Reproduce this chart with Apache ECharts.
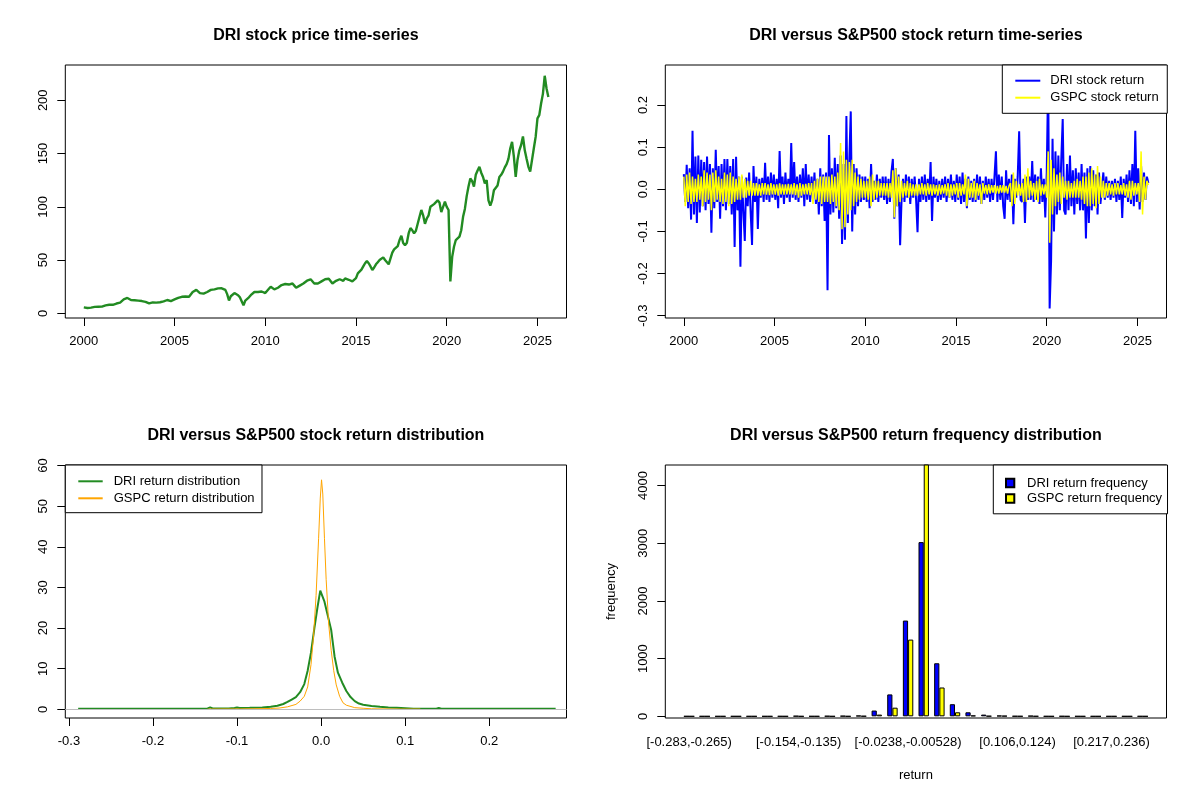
<!DOCTYPE html>
<html>
<head>
<meta charset="utf-8">
<title>DRI versus S&amp;P500</title>
<script src="https://cdn.jsdelivr.net/npm/echarts@6.0.0/dist/echarts.min.js"></script>
<style>
  html, body { margin: 0; padding: 0; background: #fff; }
  #main { width: 1200px; height: 800px; }
</style>
</head>
<body>
<div id="main"></div>
<script>
// ---- values ----

// DRI closing price, one value every 0.1 year from 2000.0
var priceStart = 2000.0;
var priceStep = 0.1;
var driPrice = [
  5.6, 4.6, 5.0, 5.5, 5.3, 5.8, 6.0, 5.8, 6.2, 6.5,
  6.3, 6.8, 7.5, 7.2, 8.0, 8.4, 8.0, 8.8, 9.2, 9.0,
  10, 11, 13, 13.5, 14.4, 13, 12.5, 12.8, 12.2, 11.5,
  11.9, 11, 11.5, 10.5, 10.8, 9.8, 9.4, 9.8, 10.2, 10,
  10, 10.5, 10.4, 11, 11.2, 11.5, 12.5, 12, 11.5, 11.8,
  13, 14, 14.5, 15, 15.5, 16, 15.8, 15, 15.5, 17,
  20, 21, 22, 20.5, 19, 19.5, 18.5, 19, 20, 20.5,
  22, 21, 22.5, 23, 23.4, 22.5, 23.5, 22.5, 22, 18,
  12, 16, 17, 19, 18, 17, 15, 14, 7.5, 12,
  12.5, 15, 17, 18.5, 20, 19.5, 20, 21, 20.5, 19.5,
  19, 20.5, 23, 25, 24, 22.5, 23.5, 24, 25.5, 26.5,
  26.5, 27.5, 28, 27, 27.5, 28, 26, 24, 25, 26,
  27, 28, 29.5, 30.6, 30.5, 31.9, 30.5, 28, 26.5, 28,
  28.8, 30, 31, 32, 32.8, 32.5, 31, 28, 29, 30.5,
  31, 32, 31.5, 30.5, 32.8, 32, 31.5, 29.7, 30, 30.6,
  33, 37.5, 38.5, 41, 44, 47, 49, 47, 44, 40.6,
  43, 46, 48, 50, 51, 52.5, 50, 48.4, 46, 47.5,
  57, 60, 61.6, 63, 68.8, 72.8, 66, 64, 66, 75,
  80, 78, 75, 77.5, 76, 90.6, 97, 92, 84, 89,
  92, 100, 99, 102.5, 101, 106, 104, 95, 100, 104.7,
  100, 97, 30, 53, 62.5, 68.8, 67, 72, 78, 90.6,
  98, 110, 119, 126.6, 124, 119, 130, 134, 137.5, 132,
  128, 122, 125, 106, 101, 106, 115.6, 114, 120, 128,
  130, 133, 137, 140, 145, 154.7, 161, 147, 128, 144,
  153, 158, 166, 153, 145, 137.5, 133, 144, 155, 165.6,
  183, 186, 197, 206, 223, 211, 203
];

// daily returns thinned to one value every 0.08 year from 2000.0
var retStart = 2000.0;
var retStep = 0.08;
var driRet = [
  0.036, -0.03, 0.058, -0.045, 0.05, -0.072, 0.139, -0.06, 0.078, -0.08, 0.08, -0.055, 0.07,
  -0.04, 0.065, -0.05, 0.078, -0.035, 0.06, -0.103, 0.05, -0.045, 0.094, -0.03, 0.055,
  -0.07, 0.06, -0.04, 0.072, -0.05, 0.072, -0.035, 0.055, -0.06, 0.072, -0.137, 0.077, -0.05,
  0.03, -0.184, 0.03, -0.05, -0.123, 0.028, -0.04, 0.04, -0.05, -0.132, 0.055, -0.03,
  0.03, -0.094, 0.025, -0.02, 0.027, -0.03, 0.063, -0.025, 0.03, -0.03, 0.04, -0.02, 0.035,
  -0.025, 0.025, -0.045, 0.091, -0.02, 0.03, -0.035, 0.04, -0.02, 0.025, -0.03, 0.11,
  -0.02, 0.065, -0.025, 0.03, -0.03, 0.035, -0.02, 0.05, -0.04, 0.06, -0.025, 0.035, -0.03,
  0.03, -0.025, 0.04, -0.035, 0.025, -0.06, 0.05, -0.04, 0.035, -0.075, 0.04, -0.24,
  0.129, -0.06, 0.05, -0.055, 0.075, -0.045, 0.06, -0.07, 0.08, -0.13, 0.06, -0.12, 0.174,
  -0.08, 0.07, 0.185, -0.1, 0.06, -0.06, 0.05, -0.04, 0.035, -0.03, 0.03, -0.025,
  0.03, -0.03, 0.025, -0.045, 0.06, -0.03, 0.02, -0.025, 0.035, -0.03, 0.025, -0.02, 0.03,
  -0.025, 0.03, -0.035, 0.025, -0.03, 0.04, 0.072, -0.07, 0.05, -0.04, 0.035, -0.133,
  -0.025, 0.025, -0.03, 0.035, -0.02, 0.03, -0.035, 0.025, -0.02, 0.03, -0.025, -0.102, 0.025,
  -0.03, 0.03, -0.025, 0.035, -0.03, 0.025, -0.025, 0.065, -0.075, 0.03, -0.02, 0.025,
  -0.03, 0.02, -0.025, 0.025, -0.02, 0.03, -0.03, 0.025, -0.02, 0.035, -0.025, 0.02, -0.03,
  0.035, -0.025, 0.03, -0.035, 0.04, -0.03, 0.025, -0.045, 0.03, -0.025, 0.02, -0.03,
  0.025, -0.03, 0.035, -0.025, 0.03, -0.035, 0.02, -0.025, 0.03, -0.02, 0.025, -0.03, 0.025,
  -0.025, 0.03, 0.09, -0.03, 0.035, -0.025, 0.03, -0.04, -0.07, 0.045, -0.025, 0.025,
  -0.03, 0.035, -0.083, 0.025, -0.02, 0.03, 0.138, -0.025, -0.03, 0.025, -0.08, 0.03, -0.025,
  0.03, -0.025, 0.067, -0.03, 0.035, -0.025, 0.03, -0.035, 0.05, -0.03, 0.025, -0.067,
  0.04, 0.27, -0.283, -0.17, 0.12, -0.1, 0.09, -0.06, 0.08, -0.05, 0.07, 0.167, -0.05,
  -0.06, 0.06, -0.05, 0.08, -0.04, 0.045, -0.06, 0.05, -0.035, 0.04, -0.05, 0.06,
  -0.05, 0.04, -0.117, 0.05, -0.08, 0.055, -0.05, 0.045, -0.04, 0.035, -0.06, 0.04, -0.035,
  -0.035, 0.04, -0.025, 0.03, -0.02, 0.02, -0.025, 0.02, -0.02, 0.025, -0.03, 0.02,
  -0.025, 0.03, -0.068, 0.025, -0.02, 0.035, -0.03, 0.045, -0.035, 0.06, -0.04, 0.139, -0.03,
  0.05, -0.048, 0.055, -0.03, 0.04, -0.025, 0.03, 0.015
];
var gspcRet = [
  0.03, -0.04, 0.035, -0.03, 0.04, -0.035, 0.03, -0.03, 0.025, -0.03, 0.035, -0.025, 0.03,
  -0.04, 0.045, -0.03, 0.04, -0.025, 0.035, -0.05, 0.04, -0.03, 0.045, -0.025, 0.03,
  -0.03, 0.025, -0.035, 0.04, -0.03, 0.035, -0.04, 0.04, -0.035, 0.03, -0.03, 0.025, -0.025,
  0.03, -0.025, 0.035, -0.02, 0.025, -0.02, 0.02, -0.015, 0.02, -0.015, 0.015, -0.015,
  0.015, -0.015, 0.012, -0.015, 0.015, -0.012, 0.015, -0.013, 0.012, -0.014, 0.015, -0.012, 0.012,
  -0.013, 0.012, -0.015, 0.014, -0.012, 0.012, -0.013, 0.012, -0.012, 0.013, -0.012, 0.012,
  -0.012, 0.015, -0.014, 0.012, -0.02, 0.015, -0.015, 0.012, -0.012, 0.013, -0.012, 0.015, -0.014,
  0.015, -0.035, 0.02, -0.025, 0.025, -0.03, 0.03, -0.035, 0.03, -0.03, 0.03, -0.03,
  0.03, -0.035, 0.035, -0.03, 0.03, -0.04, 0.04, -0.05, 0.11, -0.095, 0.09, -0.09, 0.07,
  -0.06, 0.065, -0.05, 0.07, -0.04, 0.04, -0.03, 0.03, -0.025, 0.025, -0.02, 0.02,
  -0.02, 0.02, -0.025, 0.03, -0.04, 0.035, -0.025, 0.02, -0.02, 0.02, -0.015, 0.015, -0.015,
  0.015, -0.015, 0.015, -0.02, 0.015, -0.02, 0.045, -0.067, 0.05, -0.04, 0.03, -0.03,
  0.02, -0.02, 0.015, -0.015, 0.02, -0.02, 0.015, -0.015, 0.012, -0.015, 0.012, -0.015, 0.012,
  -0.012, 0.015, -0.012, 0.012, -0.015, 0.015, -0.012, 0.012, -0.015, 0.012, -0.012, 0.01,
  -0.015, 0.012, -0.012, 0.01, -0.01, 0.012, -0.015, 0.015, -0.02, 0.012, -0.015, 0.012, -0.012,
  0.015, -0.02, 0.015, -0.015, 0.012, -0.012, 0.035, -0.04, 0.025, -0.02, 0.015, -0.02,
  0.02, -0.025, 0.015, -0.015, 0.012, -0.035, 0.015, -0.01, 0.01, -0.012, 0.012, -0.01, 0.01,
  -0.008, 0.01, -0.01, 0.008, -0.01, 0.01, -0.008, 0.01, -0.008, 0.008, -0.01, 0.008,
  0.015, -0.04, 0.04, -0.035, 0.02, -0.015, 0.012, -0.015, 0.015, -0.03, 0.035, -0.03, 0.05,
  -0.02, 0.02, -0.015, 0.015, -0.025, 0.02, -0.03, 0.025, -0.015, 0.012, -0.012, 0.012,
  -0.02, 0.09, -0.127, 0.07, -0.06, 0.05, -0.04, 0.035, -0.03, 0.04, -0.035, 0.03, -0.02,
  0.02, -0.025, 0.02, -0.02, 0.015, -0.02, 0.02, -0.02, 0.025, -0.02, 0.02, -0.025,
  0.03, -0.035, 0.03, -0.04, 0.04, -0.04, 0.05, -0.035, 0.035, -0.045, 0.055, -0.035, 0.03,
  -0.02, 0.02, -0.02, 0.015, -0.015, 0.015, -0.012, 0.012, -0.015, 0.015, -0.012, 0.015,
  -0.012, 0.01, -0.012, 0.015, -0.015, 0.012, -0.02, 0.02, -0.025, 0.02, -0.015, 0.015, -0.012,
  0.015, -0.03, 0.09, -0.06, 0.03, -0.025, 0.02, 0.01
];

// kernel density curves
var driDensX = [-0.289, -0.25, -0.2, -0.15, -0.135, -0.132, -0.129, -0.11, -0.103, -0.1,
  -0.097, -0.085, -0.07, -0.06, -0.052, -0.045, -0.04, -0.035, -0.03, -0.025,
  -0.02, -0.016, -0.012, -0.008, -0.004, -0.001, 0.001, 0.004, 0.008, 0.012,
  0.016, 0.02, 0.025, 0.03, 0.035, 0.04, 0.045, 0.05, 0.06, 0.07,
  0.08, 0.09, 0.1, 0.11, 0.137, 0.14, 0.143, 0.2, 0.25, 0.279];
var driDensY = [0.15, 0.15, 0.15, 0.15, 0.2, 0.45, 0.2, 0.2, 0.3, 0.45,
  0.3, 0.35, 0.45, 0.6, 0.85, 1.3, 1.8, 2.4, 3.0, 4.2,
  6.2, 9.5, 14, 20, 25.5, 29.2, 29, 26.5, 23, 19.5,
  13, 9, 6.6, 4.5, 3, 2.0, 1.4, 1.1, 0.8, 0.6,
  0.45, 0.35, 0.25, 0.15, 0.15, 0.3, 0.15, 0.15, 0.15, 0.15];
var gspcDensX = [-0.135, -0.1, -0.08, -0.06, -0.05, -0.04, -0.03, -0.025, -0.02, -0.016,
  -0.012, -0.009, -0.006, -0.003, -0.001, 0.0005, 0.002, 0.004, 0.006, 0.009,
  0.012, 0.015, 0.018, 0.022, 0.026, 0.03, 0.04, 0.05, 0.06, 0.08, 0.1, 0.118];
var gspcDensY = [0.05, 0.08, 0.12, 0.2, 0.3, 0.6, 1.2, 2.0, 3.2, 5.5,
  11, 18, 28, 42, 52, 56.5, 53, 42, 32, 21,
  14.5, 9.5, 6, 3.2, 1.6, 1.0, 0.4, 0.25, 0.12, 0.08, 0.05, 0.05];

// histogram bins and counts
var binLabels = [
  '[-0.283,-0.265)', '[-0.265,-0.246)', '[-0.246,-0.228)', '[-0.228,-0.209)', '[-0.209,-0.191)',
  '[-0.191,-0.172)', '[-0.172,-0.154)', '[-0.154,-0.135)', '[-0.135,-0.117)', '[-0.117,-0.098)',
  '[-0.098,-0.0794)', '[-0.0794,-0.0609)', '[-0.0609,-0.0423)', '[-0.0423,-0.0238)', '[-0.0238,-0.00528)',
  '[-0.00528,0.0133)', '[0.0133,0.0318)', '[0.0318,0.0503)', '[0.0503,0.0688)', '[0.0688,0.0874)',
  '[0.0874,0.106)', '[0.106,0.124)', '[0.124,0.143)', '[0.143,0.161)', '[0.161,0.18)',
  '[0.18,0.198)', '[0.198,0.217)', '[0.217,0.236)', '[0.236,0.254)', '[0.254,0.273]'
];
var driFreq = [1, 0, 0, 0, 0, 0, 1, 5, 1, 4, 6, 12, 100, 380, 1660, 3020, 920, 210, 70, 30, 12, 3, 8, 1, 2, 1, 0, 0, 0, 1];
var gspcFreq = [0, 0, 0, 0, 0, 0, 0, 0, 1, 0, 1, 4, 30, 150, 1330, 4410, 500, 70, 15, 5, 8, 2, 2, 0, 0, 0, 0, 0, 0, 0];
var binLabelShown = [0, 7, 14, 21, 27];

// axis ticks
var yearTicks = [2000, 2005, 2010, 2015, 2020, 2025];
var priceTicks = [0, 50, 100, 150, 200];
var retTicks = [-0.3, -0.2, -0.1, 0, 0.1, 0.2];
var densXTicks = [-0.3, -0.2, -0.1, 0, 0.1, 0.2];
var densYTicks = [0, 10, 20, 30, 40, 50, 60];
var freqTicks = [0, 1000, 2000, 3000, 4000];

var FONT = 'Liberation Sans, Arial, sans-serif';

function series(start, step, vals) {
    var out = [];
    for (var i = 0; i < vals.length; i++) {
        out.push([start + i * step, vals[i]]);
    }
    return out;
}
function zip(xs, ys) {
    var out = [];
    for (var i = 0; i < xs.length; i++) {
        out.push([xs[i], ys[i]]);
    }
    return out;
}
function oneDecimal(v) { return v.toFixed(1); }
function plain(v) { return String(v); }

function valueAxis(grid, min, max, ticks, fmt, vertical) {
    return {
        type: 'value', gridIndex: grid, min: min, max: max, scale: true,
        axisLine: {show: false, onZero: false},
        splitLine: {show: false},
        axisTick: {show: true, inside: false, length: 8, customValues: ticks,
            lineStyle: {color: '#000', width: 1}},
        axisLabel: {
            customValues: ticks, formatter: fmt, color: '#000',
            fontFamily: FONT, fontSize: 13,
            rotate: vertical ? 90 : 0,
            margin: vertical ? 15 : 17
        }
    };
}

function frameGrid(left, top, width, height) {
    return {
        left: left, top: top, width: width, height: height,
        show: true, borderColor: '#000', borderWidth: 1,
        backgroundColor: 'transparent', containLabel: false, outerBoundsMode: 'none'
    };
}

function titleAt(text, cx, top) {
    return {
        text: text, left: cx, top: top, textAlign: 'center', padding: 0,
        textStyle: {fontFamily: FONT, fontSize: 16, fontWeight: 'bold', color: '#000'}
    };
}

function boxLegend(names, left, top, pad, itemW, itemH, gap, textPadLeft, icon) {
    return {
        data: names.map(function (n) { return icon ? {name: n, icon: icon} : {name: n}; }),
        orient: 'vertical', left: left, top: top,
        padding: pad, itemWidth: itemW, itemHeight: itemH, itemGap: gap,
        backgroundColor: '#fff', borderColor: '#000', borderWidth: 1, borderRadius: 0,
        selectedMode: false,
        // hide the symbol ECharts puts on line icons, keep the line
        itemStyle: icon ? {} : {opacity: 0},
        textStyle: {fontFamily: FONT, fontSize: 13, color: '#000', lineHeight: 15,
            padding: [0, 0, 0, textPadLeft]}
    };
}

var myChart = echarts.init(document.getElementById('main'), null, {renderer: 'canvas'});

// plot regions (R mfrow 2x2 layout)
var P1 = [65.3, 65, 501.2, 253];
var P2 = [665.3, 65, 501.2, 253];
var P3 = [65.3, 465, 501.2, 253];
var P4 = [665.3, 465, 501.2, 253];
// barplot: 30 groups of 3 units, frame spans 96.12 units
var unitPx = 501.2 / 96.12;
var barLeft = 665.3 + 3.06 * unitPx;
var barSpan = 90 * unitPx;

var option = {
    animation: false,
    backgroundColor: '#fff',
    title: [
        titleAt('DRI stock price time-series', 315.9, 28),
        titleAt('DRI versus S&P500 stock return time-series', 915.9, 28),
        titleAt('DRI versus S&P500 stock return distribution', 315.9, 428),
        titleAt('DRI versus S&P500 return frequency distribution', 915.9, 428)
    ],
    legend: [
        boxLegend(['DRI stock return', 'GSPC stock return'], 1002.3, 65, [8.2, 8.6, 8.1, 12], 25, 14, 2, 5),
        boxLegend(['DRI return distribution', 'GSPC return distribution'], 65.3, 465, [8.8, 7.4, 6.9, 12], 24.4, 14, 2, 6),
        boxLegend(['DRI return frequency', 'GSPC return frequency'], 993.3, 465, [10.5, 5.4, 7.8, 11.7], 8.3, 8.3, 0.5, 7.7, 'rect')
    ],
    grid: [
        frameGrid(P1[0], P1[1], P1[2], P1[3]),
        frameGrid(P2[0], P2[1], P2[2], P2[3]),
        frameGrid(P3[0], P3[1], P3[2], P3[3]),
        {left: barLeft, top: P4[1], width: barSpan, height: P4[3], show: false,
            containLabel: false, outerBoundsMode: 'none'},
        frameGrid(P4[0], P4[1], P4[2], P4[3])
    ],
    xAxis: [
        valueAxis(0, 1998.98, 2026.6, yearTicks, plain, false),
        valueAxis(1, 1998.98, 2026.6, yearTicks, plain, false),
        valueAxis(2, -0.3043, 0.2919, densXTicks, oneDecimal, false),
        {
            type: 'category', gridIndex: 3, data: binLabels, boundaryGap: true,
            axisLine: {show: false, onZero: false},
            axisTick: {show: false},
            splitLine: {show: false},
            axisLabel: {
                interval: function (idx) { return binLabelShown.indexOf(idx) >= 0; },
                hideOverlap: false, color: '#000', fontFamily: FONT, fontSize: 13, margin: 18
            },
            name: 'return', nameLocation: 'middle', nameGap: 51,
            nameTextStyle: {fontFamily: FONT, fontSize: 13, color: '#000'}
        },
        {type: 'value', gridIndex: 4, min: 0, max: 1, show: false}
    ],
    yAxis: [
        valueAxis(0, -4.4, 233.1, priceTicks, plain, true),
        valueAxis(1, -0.3057, 0.2952, retTicks, oneDecimal, true),
        valueAxis(2, -2.15, 60.15, densYTicks, plain, true),
        (function () {
            var ax = valueAxis(3, -29, 4357, freqTicks, plain, true);
            ax.offset = barLeft - P4[0];
            ax.name = 'frequency';
            ax.nameLocation = 'middle';
            ax.nameGap = 47;
            ax.nameTextStyle = {fontFamily: FONT, fontSize: 13, color: '#000'};
            return ax;
        })(),
        {type: 'value', gridIndex: 4, min: 0, max: 1, show: false}
    ],
    series: [
        {
            name: 'DRI stock price', type: 'line', xAxisIndex: 0, yAxisIndex: 0,
            data: series(priceStart, priceStep, driPrice),
            symbol: 'none', lineStyle: {color: '#228B22', width: 2.4}, itemStyle: {color: '#228B22'}
        },
        {
            name: 'DRI stock return', type: 'line', xAxisIndex: 1, yAxisIndex: 1,
            data: series(retStart, retStep, driRet), sampling: null,
            symbol: 'none', lineStyle: {color: '#0000FF', width: 2}, itemStyle: {color: '#0000FF'}
        },
        {
            name: 'GSPC stock return', type: 'line', xAxisIndex: 1, yAxisIndex: 1,
            data: series(retStart, retStep, gspcRet), sampling: null,
            symbol: 'none', lineStyle: {color: '#FFFF00', width: 1.5}, itemStyle: {color: '#FFFF00'}
        },
        {
            name: 'DRI return distribution', type: 'line', xAxisIndex: 2, yAxisIndex: 2,
            data: zip(driDensX, driDensY),
            symbol: 'none', lineStyle: {color: '#228B22', width: 2}, itemStyle: {color: '#228B22'},
            markLine: {
                silent: true, symbol: ['none', 'none'], label: {show: false},
                lineStyle: {color: '#BEBEBE', width: 1, type: 'solid'},
                data: [{yAxis: 0}]
            }
        },
        {
            name: 'GSPC return distribution', type: 'line', xAxisIndex: 2, yAxisIndex: 2,
            data: zip(gspcDensX, gspcDensY),
            symbol: 'none', lineStyle: {color: '#FFA500', width: 1}, itemStyle: {color: '#FFA500'}
        },
        {
            name: 'DRI return frequency', type: 'bar', xAxisIndex: 3, yAxisIndex: 3,
            data: driFreq, barWidth: unitPx, barGap: '0%', clip: true,
            itemStyle: {color: '#0000FF', borderColor: '#000', borderWidth: 1}
        },
        {
            name: 'GSPC return frequency', type: 'bar', xAxisIndex: 3, yAxisIndex: 3,
            data: gspcFreq, barWidth: unitPx, barGap: '0%', clip: true,
            itemStyle: {color: '#FFFF00', borderColor: '#000', borderWidth: 1}
        }
    ]
};

myChart.setOption(option);
window.addEventListener('resize', function () { myChart.resize(); });
</script>
</body>
</html>
